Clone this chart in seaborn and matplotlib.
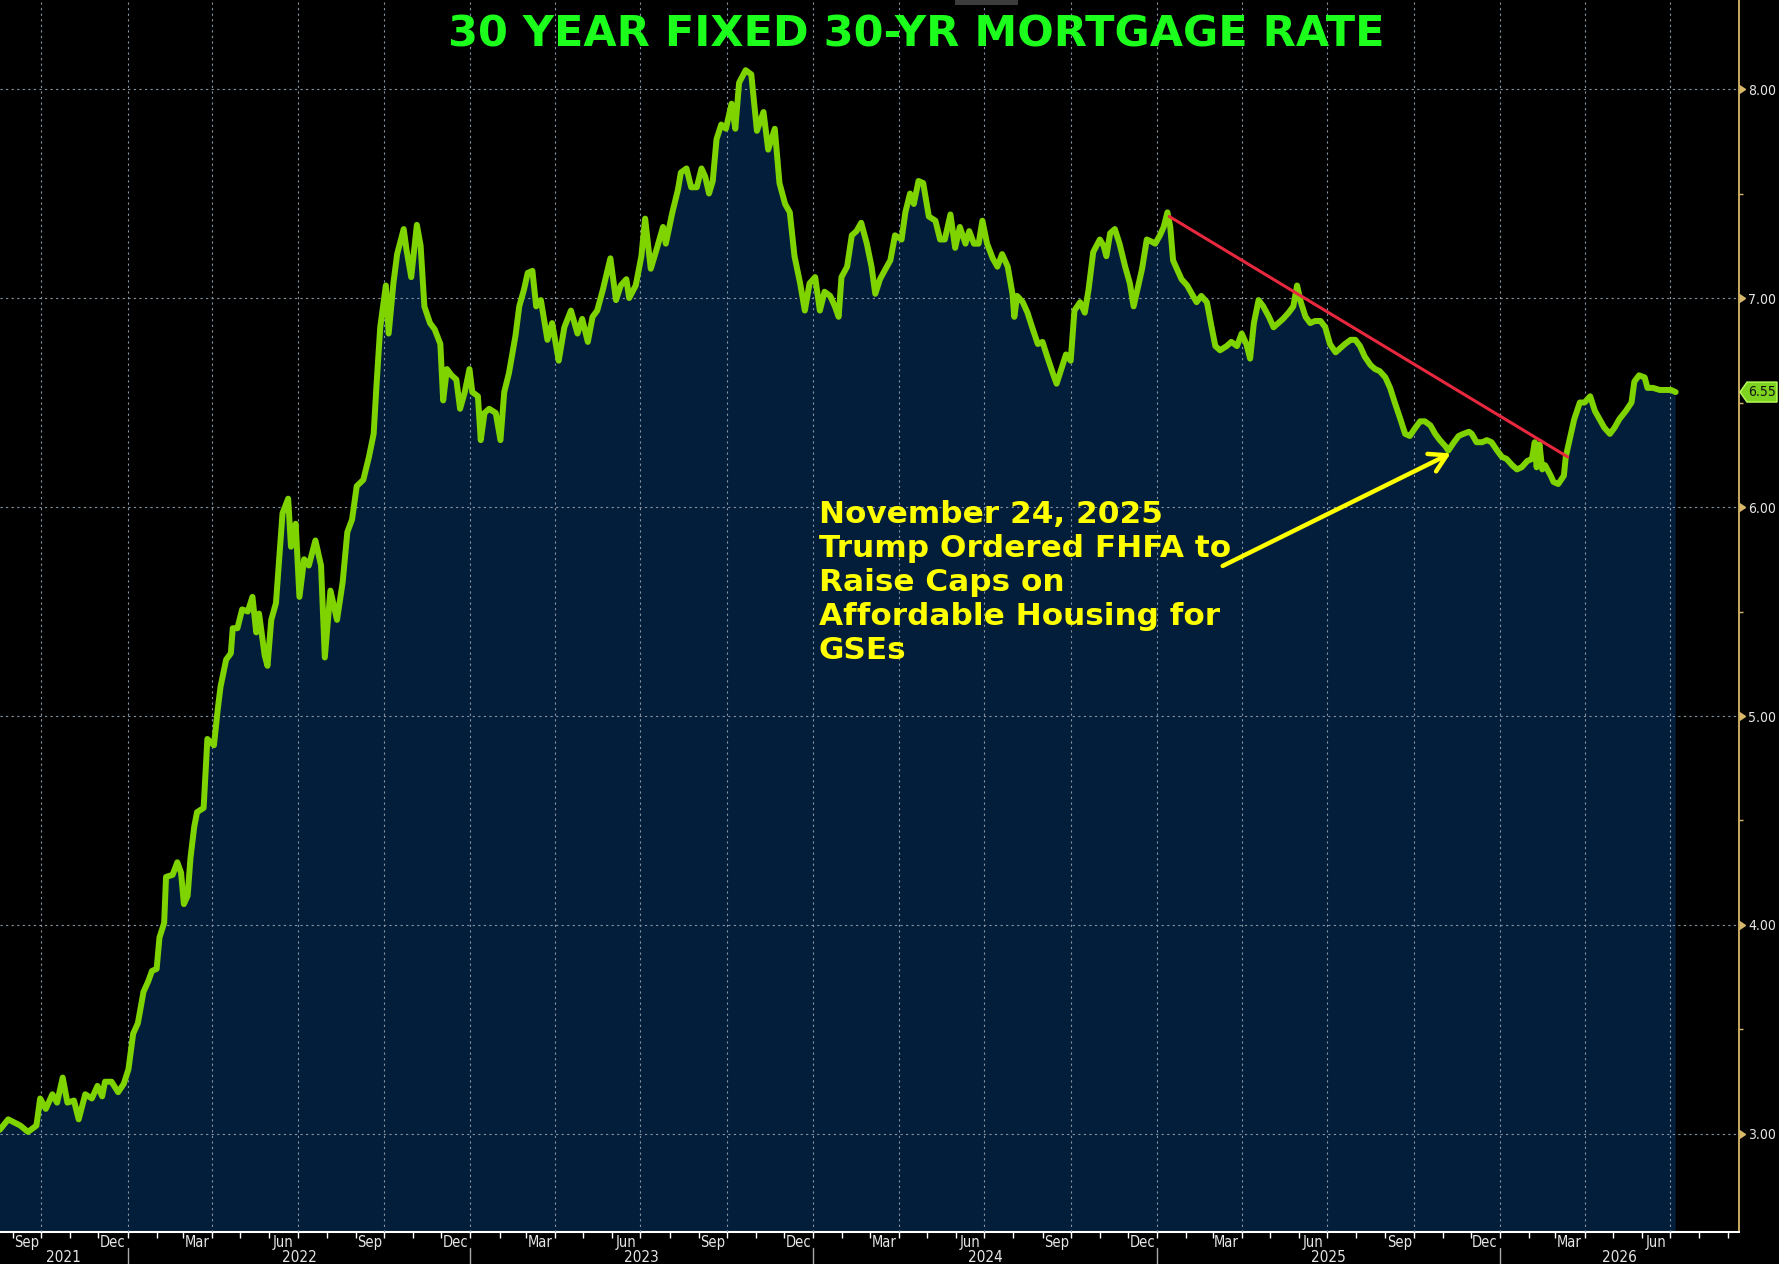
import matplotlib
matplotlib.use("Agg")
import matplotlib.pyplot as plt
import matplotlib.dates as mdates
import matplotlib.transforms as mtransforms
from matplotlib.patches import Polygon, Rectangle
from matplotlib.ticker import MultipleLocator, FormatStrFormatter
from matplotlib.markers import CARETRIGHTBASE
import seaborn as sns
import pandas as pd

# 30-yr fixed mortgage rate
dates_2021 = ["2021-08-18", "2021-08-27", "2021-09-09", "2021-09-17", "2021-09-26", "2021-09-30",
              "2021-10-06", "2021-10-13", "2021-10-18", "2021-10-24", "2021-10-29", "2021-11-05",
              "2021-11-10", "2021-11-17", "2021-11-24", "2021-11-30", "2021-12-05", "2021-12-08",
              "2021-12-15", "2021-12-22", "2021-12-28"]
rates_2021 = [3.02, 3.07, 3.04, 3.01, 3.04, 3.17, 3.12, 3.19, 3.15, 3.27, 3.15, 3.16,
              3.07, 3.19, 3.17, 3.23, 3.18, 3.25, 3.25, 3.20, 3.24]

dates_2022 = ["2022-01-02", "2022-01-07", "2022-01-12", "2022-01-18", "2022-01-23", "2022-01-27",
              "2022-02-01", "2022-02-04", "2022-02-09", "2022-02-11", "2022-02-18", "2022-02-23",
              "2022-02-27", "2022-03-02", "2022-03-06", "2022-03-09", "2022-03-13", "2022-03-16",
              "2022-03-23", "2022-03-27", "2022-04-03", "2022-04-07", "2022-04-10", "2022-04-16",
              "2022-04-21", "2022-04-23", "2022-04-28", "2022-05-03", "2022-05-09", "2022-05-14",
              "2022-05-18", "2022-05-21", "2022-05-27", "2022-05-30", "2022-06-03", "2022-06-08",
              "2022-06-15", "2022-06-21", "2022-06-24", "2022-06-29", "2022-07-03", "2022-07-08",
              "2022-07-13", "2022-07-20", "2022-07-26", "2022-07-30", "2022-08-05", "2022-08-12",
              "2022-08-18", "2022-08-23", "2022-08-28", "2022-09-02", "2022-09-09", "2022-09-15",
              "2022-09-20", "2022-09-23", "2022-09-27", "2022-10-03", "2022-10-06", "2022-10-11",
              "2022-10-15", "2022-10-22", "2022-10-25", "2022-10-30", "2022-11-05", "2022-11-09",
              "2022-11-13", "2022-11-19", "2022-11-24", "2022-11-30", "2022-12-03", "2022-12-07",
              "2022-12-12", "2022-12-17", "2022-12-21", "2022-12-26", "2022-12-31"]
rates_2022 = [3.31, 3.48, 3.53, 3.68, 3.73, 3.78,
              3.79, 3.94, 4.01, 4.23, 4.24, 4.30,
              4.25, 4.10, 4.14, 4.32, 4.47, 4.54,
              4.56, 4.89, 4.86, 5.03, 5.14, 5.27,
              5.30, 5.42, 5.42, 5.51, 5.50, 5.57,
              5.40, 5.49, 5.29, 5.24, 5.46, 5.54,
              5.97, 6.04, 5.81, 5.92, 5.57, 5.75,
              5.72, 5.84, 5.72, 5.28, 5.60, 5.46,
              5.64, 5.88, 5.94, 6.10, 6.13, 6.24,
              6.35, 6.58, 6.86, 7.06, 6.83, 7.07,
              7.21, 7.33, 7.23, 7.10, 7.35, 7.25,
              6.96, 6.88, 6.85, 6.78, 6.51, 6.66,
              6.63, 6.61, 6.47, 6.55, 6.66]

dates_2023 = ["2023-01-03", "2023-01-09", "2023-01-12", "2023-01-16", "2023-01-21", "2023-01-28",
              "2023-02-02", "2023-02-06", "2023-02-11", "2023-02-18", "2023-02-22", "2023-02-27",
              "2023-03-03", "2023-03-08", "2023-03-12", "2023-03-17", "2023-03-24", "2023-03-29",
              "2023-04-05", "2023-04-11", "2023-04-18", "2023-04-25", "2023-04-30", "2023-05-06",
              "2023-05-11", "2023-05-16", "2023-05-22", "2023-05-30", "2023-06-05", "2023-06-10",
              "2023-06-16", "2023-06-19", "2023-06-26", "2023-07-02", "2023-07-06", "2023-07-12",
              "2023-07-18", "2023-07-25", "2023-07-28", "2023-08-04", "2023-08-10", "2023-08-13",
              "2023-08-19", "2023-08-24", "2023-08-30", "2023-09-04", "2023-09-08", "2023-09-12",
              "2023-09-16", "2023-09-20", "2023-09-25", "2023-09-30", "2023-10-06", "2023-10-10",
              "2023-10-14", "2023-10-21", "2023-10-27", "2023-11-02", "2023-11-09", "2023-11-14",
              "2023-11-21", "2023-11-26", "2023-12-02", "2023-12-07", "2023-12-12", "2023-12-18",
              "2023-12-23", "2023-12-28"]
rates_2023 = [6.55, 6.53, 6.32, 6.45, 6.47, 6.45,
              6.32, 6.55, 6.64, 6.82, 6.96, 7.04,
              7.12, 7.13, 6.96, 6.99, 6.80, 6.88,
              6.70, 6.86, 6.94, 6.83, 6.90, 6.79,
              6.91, 6.94, 7.04, 7.19, 6.99, 7.06,
              7.09, 7.00, 7.06, 7.20, 7.38, 7.14,
              7.23, 7.34, 7.26, 7.41, 7.52, 7.60,
              7.62, 7.53, 7.53, 7.62, 7.58, 7.50,
              7.56, 7.76, 7.83, 7.81, 7.93, 7.81,
              8.03, 8.09, 8.07, 7.80, 7.89, 7.71,
              7.81, 7.55, 7.45, 7.41, 7.20, 7.07,
              6.94, 7.07]

dates_2024 = ["2024-01-03", "2024-01-08", "2024-01-13", "2024-01-19", "2024-01-24", "2024-01-28",
              "2024-01-31", "2024-02-06", "2024-02-11", "2024-02-16", "2024-02-21", "2024-02-27",
              "2024-03-03", "2024-03-07", "2024-03-12", "2024-03-18", "2024-03-23", "2024-03-28",
              "2024-04-04", "2024-04-08", "2024-04-13", "2024-04-17", "2024-04-22", "2024-04-27",
              "2024-05-03", "2024-05-10", "2024-05-15", "2024-05-20", "2024-05-26", "2024-05-31",
              "2024-06-05", "2024-06-11", "2024-06-15", "2024-06-20", "2024-06-25", "2024-06-29",
              "2024-07-04", "2024-07-10", "2024-07-15", "2024-07-20", "2024-07-26", "2024-07-31",
              "2024-08-02", "2024-08-05", "2024-08-11", "2024-08-16", "2024-08-21", "2024-08-27",
              "2024-09-01", "2024-09-06", "2024-09-12", "2024-09-16", "2024-09-21", "2024-09-26",
              "2024-10-01", "2024-10-05", "2024-10-11", "2024-10-16", "2024-10-20", "2024-10-25",
              "2024-11-01", "2024-11-05", "2024-11-08", "2024-11-12", "2024-11-17", "2024-11-22",
              "2024-11-28", "2024-12-03", "2024-12-07", "2024-12-12", "2024-12-16", "2024-12-21",
              "2024-12-26", "2024-12-30"]
rates_2024 = [7.10, 6.94, 7.03, 7.01, 6.96, 6.91,
              7.10, 7.15, 7.30, 7.32, 7.36, 7.26,
              7.15, 7.02, 7.09, 7.14, 7.18, 7.30,
              7.28, 7.41, 7.50, 7.45, 7.56, 7.55,
              7.39, 7.37, 7.28, 7.28, 7.40, 7.24,
              7.34, 7.26, 7.32, 7.26, 7.26, 7.37,
              7.26, 7.19, 7.15, 7.21, 7.15, 7.02,
              6.91, 7.01, 6.98, 6.93, 6.86, 6.78,
              6.79, 6.72, 6.64, 6.59, 6.66, 6.73,
              6.70, 6.94, 6.98, 6.93, 7.04, 7.22,
              7.28, 7.25, 7.20, 7.31, 7.33, 7.26,
              7.15, 7.07, 6.96, 7.06, 7.14, 7.28,
              7.27, 7.26]

dates_2025 = ["2025-01-04", "2025-01-08", "2025-01-12", "2025-01-15", "2025-01-18", "2025-01-22",
              "2025-01-27", "2025-02-02", "2025-02-07", "2025-02-12", "2025-02-17", "2025-02-23",
              "2025-02-28", "2025-03-04", "2025-03-09", "2025-03-16", "2025-03-21", "2025-03-27",
              "2025-04-01", "2025-04-06", "2025-04-10", "2025-04-14", "2025-04-19", "2025-04-24",
              "2025-04-30", "2025-05-05", "2025-05-10", "2025-05-15", "2025-05-21", "2025-05-26",
              "2025-05-30", "2025-06-03", "2025-06-08", "2025-06-13", "2025-06-18", "2025-06-24",
              "2025-06-29", "2025-07-04", "2025-07-10", "2025-07-15", "2025-07-20", "2025-07-26",
              "2025-07-31", "2025-08-05", "2025-08-10", "2025-08-16", "2025-08-21", "2025-08-26",
              "2025-09-01", "2025-09-06", "2025-09-11", "2025-09-17", "2025-09-22", "2025-09-27",
              "2025-10-03", "2025-10-08", "2025-10-13", "2025-10-19", "2025-10-24", "2025-10-29",
              "2025-11-04", "2025-11-07", "2025-11-13", "2025-11-18", "2025-11-23", "2025-11-29",
              "2025-12-02", "2025-12-07", "2025-12-13", "2025-12-18", "2025-12-23", "2025-12-29"]
rates_2025 = [7.30, 7.34, 7.41, 7.34, 7.18, 7.14,
              7.09, 7.06, 7.02, 6.98, 7.01, 6.98,
              6.86, 6.77, 6.75, 6.77, 6.79, 6.77,
              6.83, 6.78, 6.71, 6.88, 6.99, 6.96,
              6.91, 6.86, 6.88, 6.90, 6.93, 6.96,
              7.06, 6.98, 6.91, 6.88, 6.89, 6.89,
              6.86, 6.78, 6.74, 6.76, 6.78, 6.80,
              6.80, 6.77, 6.72, 6.68, 6.66, 6.65,
              6.62, 6.57, 6.50, 6.42, 6.35, 6.34,
              6.38, 6.41, 6.41, 6.39, 6.35, 6.32,
              6.29, 6.27, 6.31, 6.34, 6.35, 6.36,
              6.35, 6.31, 6.31, 6.32, 6.31, 6.27]

dates_2026 = ["2026-01-03", "2026-01-08", "2026-01-14", "2026-01-19", "2026-01-24", "2026-01-30",
              "2026-02-04", "2026-02-07", "2026-02-09", "2026-02-12", "2026-02-15", "2026-02-18",
              "2026-02-24", "2026-02-27", "2026-03-04", "2026-03-10", "2026-03-12", "2026-03-16",
              "2026-03-21", "2026-03-27", "2026-04-01", "2026-04-07", "2026-04-12", "2026-04-17",
              "2026-04-22", "2026-04-28", "2026-05-03", "2026-05-08", "2026-05-15", "2026-05-21",
              "2026-05-24", "2026-05-29", "2026-06-04", "2026-06-07", "2026-06-13", "2026-06-20",
              "2026-06-27", "2026-07-02", "2026-07-07"]
rates_2026 = [6.24, 6.23, 6.20, 6.18, 6.19, 6.22,
              6.23, 6.31, 6.19, 6.30, 6.18, 6.20,
              6.15, 6.12, 6.11, 6.15, 6.24, 6.32,
              6.42, 6.50, 6.50, 6.53, 6.46, 6.42,
              6.38, 6.35, 6.38, 6.42, 6.46, 6.50,
              6.60, 6.63, 6.62, 6.57, 6.57, 6.56,
              6.56, 6.56, 6.55]

# red resistance line and the annotation
trend_dates = ["2025-01-14", "2026-03-14"]
trend_rates = [7.39, 6.24]
note_text = ("November 24, 2025\nTrump Ordered FHFA to\nRaise Caps on\n"
             "Affordable Housing for\nGSEs")
title_text = "30 YEAR FIXED 30-YR MORTGAGE RATE"
month_names = {3: "Mar", 6: "Jun", 9: "Sep", 12: "Dec"}
years = [2021, 2022, 2023, 2024, 2025, 2026]

df = pd.DataFrame({
    "date": pd.to_datetime(dates_2021 + dates_2022 + dates_2023 + dates_2024 + dates_2025 + dates_2026),
    "rate": rates_2021 + rates_2022 + rates_2023 + rates_2024 + rates_2025 + rates_2026,
})

GREEN = "#7fd400"
NAVY = "#031e3b"
GOLD = "#d9b968"
GRID = "#8693a2"
TXT = "#e6e6e6"
NARROW = ["Liberation Sans Narrow", "DejaVu Sans"]

sns.set_theme(style="dark", rc={"axes.facecolor": "black", "figure.facecolor": "black"})
plt.rcParams["font.family"] = ["DejaVu Sans"]

W, H = 1779, 1264
fig = plt.figure(figsize=(W / 100, H / 100), dpi=100)
fig.patch.set_facecolor("black")
ax = fig.add_axes([0, 32 / H, 1739 / W, 1232 / H])
ax.set_facecolor("black")

xmin = pd.Timestamp("2021-08-18 06:00")
xmax = pd.Timestamp("2026-09-12 10:00")
ymin, ymax = 2.531, 8.426
ax.set_xlim(xmin, xmax)
ax.set_ylim(ymin, ymax)

# area + line
ax.fill_between(df["date"], df["rate"], ymin - 1, color=NAVY, lw=0, zorder=1)
sns.lineplot(data=df, x="date", y="rate", ax=ax, color=GREEN, linewidth=4.3,
             solid_joinstyle="round", solid_capstyle="round", zorder=3)
ax.plot(pd.to_datetime(trend_dates), trend_rates, color="#e8283e", lw=2.2, zorder=4)

# grid
ax.xaxis.set_major_locator(mdates.MonthLocator(bymonth=[1, 4, 7, 10]))
ax.xaxis.set_minor_locator(mdates.MonthLocator())
ax.yaxis.set_major_locator(MultipleLocator(1))
ax.yaxis.set_minor_locator(MultipleLocator(0.5))
ax.grid(True, which="major", color=GRID, lw=0.8, linestyle=(0, (2, 3)))
ax.set_axisbelow(False)
ax.set_xlabel("")
ax.set_ylabel("")

# spines
for s in ["top", "left"]:
    ax.spines[s].set_visible(False)
ax.spines["bottom"].set_color("white")
ax.spines["bottom"].set_linewidth(1.5)
ax.spines["right"].set_color(GOLD)
ax.spines["right"].set_linewidth(1.3)

# x axis: monthly ticks, labels drawn as text
ax.tick_params(axis="x", which="both", direction="out", length=4, width=1, color="white",
               labelbottom=False, bottom=True)
bx = mtransforms.blended_transform_factory(ax.transData, ax.transAxes)
for yr in years:
    for m, name in month_names.items():
        d = pd.Timestamp(yr, m, 16)
        if xmin <= d <= xmax:
            ax.text(d, -10.5 / 1232, name, transform=bx, ha="center", va="center",
                    color=TXT, fontsize=10.5, family=NARROW, fontstretch="condensed", clip_on=False)
    lo = max(pd.Timestamp(yr, 1, 1), xmin)
    hi = min(pd.Timestamp(yr + 1, 1, 1), xmax)
    ax.text(lo + (hi - lo) / 2, -25.8 / 1232, str(yr), transform=bx, ha="center", va="center",
            color=TXT, fontsize=11, family=NARROW, fontstretch="condensed", clip_on=False)
    if pd.Timestamp(yr, 1, 1) > xmin:
        ax.plot([pd.Timestamp(yr, 1, 1)] * 2, [-16 / 1232, -32 / 1232], transform=bx,
                color="#aaaaaa", lw=1, clip_on=False)

# y axis on the right
ax.yaxis.tick_right()
ax.yaxis.set_major_formatter(FormatStrFormatter("%.2f"))
ax.tick_params(axis="y", which="major", direction="out", length=6, width=1, color=GOLD,
               labelcolor=TXT, labelsize=10, pad=0.8, left=False, right=True)
ax.tick_params(axis="y", which="minor", direction="out", length=3, width=1, color=GOLD,
               left=False, right=True)
for lab in ax.get_yticklabels():
    lab.set_family(NARROW)
    lab.set_fontstretch("condensed")
for t in ax.yaxis.get_major_ticks():
    t.tick2line.set_marker(CARETRIGHTBASE)
    t.tick2line.set_markerfacecolor(GOLD)
    t.tick2line.set_markeredgecolor(GOLD)

# last value tag
last = df["rate"].iloc[-1]
by = mtransforms.blended_transform_factory(ax.transAxes, ax.transData)
hh = 10 / 209
tag = Polygon([(1 + 1 / 1739, last), (1 + 8 / 1739, last + hh), (1 + 38 / 1739, last + hh),
               (1 + 38 / 1739, last - hh), (1 + 8 / 1739, last - hh)], closed=True,
              transform=by, facecolor="#7ed321", edgecolor="#b8ff5c", lw=1, clip_on=False, zorder=6)
ax.add_patch(tag)
ax.text(1 + 23 / 1739, last, f"{last:.2f}", transform=by, ha="center", va="center",
        color="#111111", fontsize=10, family=NARROW, fontstretch="condensed",
        clip_on=False, zorder=7)

# annotation
ax.text(pd.Timestamp("2024-01-07"), 6.035, note_text, ha="left", va="top", color="#ffff00",
        fontsize=22.4, fontweight="bold", linespacing=1.22, zorder=5)
ax.annotate("", xy=(pd.Timestamp("2025-11-09 12:00"), 6.257),
            xytext=(pd.Timestamp("2025-03-11 18:00"), 5.718),
            arrowprops=dict(arrowstyle="->,head_length=0.6,head_width=0.35", color="#ffff00",
                            lw=3.2, shrinkA=0, shrinkB=0, mutation_scale=20),
            zorder=5)

# title and small tab on top
fig.text(916.5 / W, 1 - 46.7 / H, title_text, ha="center", va="baseline", color="#1cff1c",
         fontsize=31, fontweight="bold")
fig.patches.append(Rectangle((955 / W, 1 - 5 / H), 63 / W, 5 / H, transform=fig.transFigure,
                             facecolor="#3c3c3c", edgecolor="none"))

fig.savefig("out.png", dpi=100, facecolor="black")
